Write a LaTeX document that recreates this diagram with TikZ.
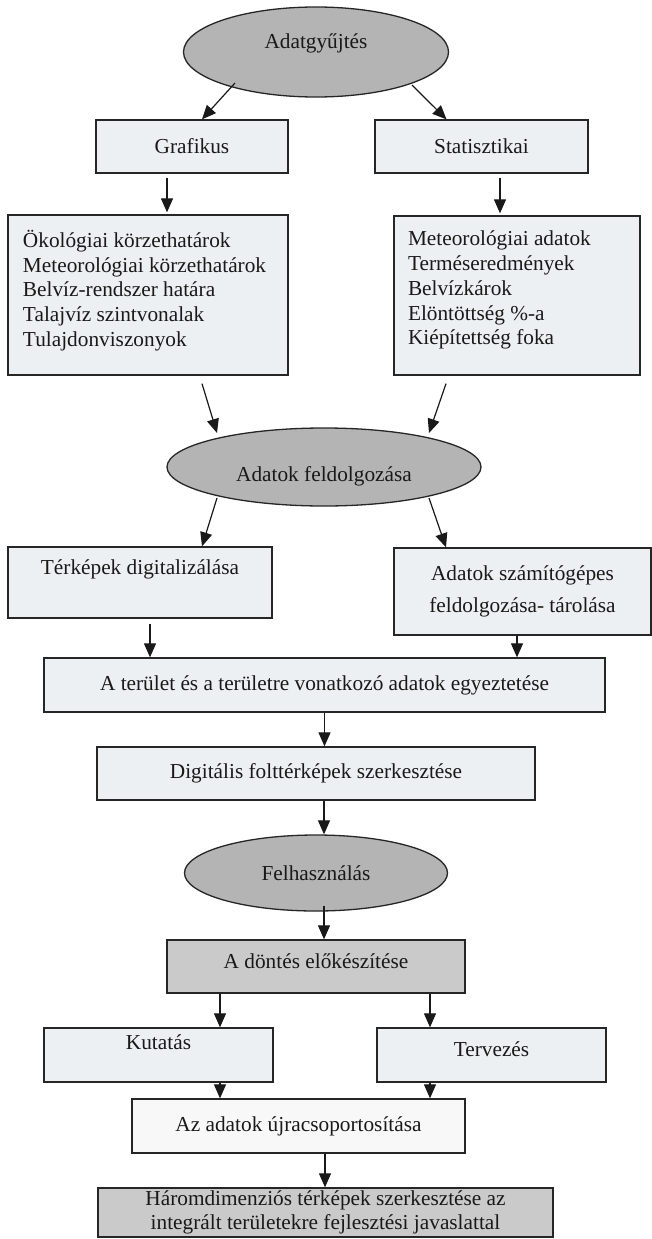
\documentclass[tikz,border=0pt]{standalone}
\usepackage{fontspec}
\setmainfont{Liberation Serif}
\usetikzlibrary{shapes.geometric,arrows.meta,calc}
\definecolor{ellgray}{HTML}{B4B4B4}
\definecolor{boxlight}{HTML}{EDF0F2}
\definecolor{boxdark}{HTML}{CACACA}
\definecolor{boxwhite}{HTML}{F8F8F8}
\begin{document}
\begin{tikzpicture}[x=1pt,y=1pt]
	\tikzstyle{every node}+=[font=\fontsize{21.3}{24.75}\selectfont, text=black!90]
	\tikzstyle{ell}=[ellipse, draw=black!85, line width=1.3pt, fill=ellgray, inner sep=0pt]
	\tikzstyle{box}=[rectangle, draw=black!85, line width=1.3pt, fill=boxlight, inner sep=2pt]
	\tikzstyle{arr}=[black!90, line width=1.2pt, -{Triangle[length=14pt,width=12pt]}]
	\useasboundingbox (0,0) rectangle (652,-1239);
	\node [ell, minimum width=265, minimum height=90, text depth=21pt] (gyujt) at (316,-52) {Adatgyűjtés};
	\node [box, minimum width=192, minimum height=53] (graf) at (192,-146.5) {Grafikus};
	\node [box, minimum width=213, minimum height=53] (stat) at (481.5,-146.5) {Statisztikai};
	\node [box, inner sep=15pt] (graflist) at (148,-295) {\parbox[c][130pt][t]{250pt}{Ökológiai körzethatárok\\ Meteorológiai körzethatárok\\ Belvíz-rendszer határa\\ Talajvíz szintvonalak\\ Tulajdonviszonyok}};
	\node [box, inner xsep=14pt, inner ysep=15pt] (statlist) at (517,-295.5) {\parbox[c][129pt][t]{218pt}{Meteorológiai adatok\\ Terméseredmények\\ Belvízkárok\\ Elöntöttség \%-a\\ Kiépítettség foka}};
	\node [ell, minimum width=314, minimum height=78, text height=33pt, text depth=4pt] (feldolg) at (324,-467) {Adatok feldolgozása};
	\node [box, minimum width=264, minimum height=71, text depth=31pt] (terk) at (140,-582.5) {Térképek digitalizálása};
	\node [box, minimum width=257, minimum height=87, align=center] (szam) at (522.5,-591.5) {Adatok számítógépes\\[8pt] feldolgozása- tárolása};
	\node [box, minimum width=561, minimum height=54] (terulet) at (324.5,-685) {A terület és a területre vonatkozó adatok egyeztetése};
	\node [box, minimum width=438, minimum height=53] (folt) at (316,-773.5) {Digitális folttérképek szerkesztése};
	\node [ell, minimum width=263, minimum height=76] (felhasz) at (316,-873) {Felhasználás};
	\node [box, fill=boxdark, minimum width=298, minimum height=53, text depth=11pt] (dontes) at (316,-966.5) {A döntés előkészítése};
	\node [box, minimum width=229, minimum height=54, text depth=25pt] (kutat) at (158.5,-1055) {Kutatás};
	\node [box, minimum width=229, minimum height=54, text depth=12pt] (tervez) at (491.5,-1055) {Tervezés};
	\node [box, fill=boxwhite, minimum width=333, minimum height=54] (ujra) at (298.5,-1126) {Az adatok újracsoportosítása};
	\node [box, fill=boxdark, minimum width=455, minimum height=49, align=center, inner ysep=0pt] (harom) at (325.5,-1212.5) {Háromdimenziós térképek szerkesztése az\\ integrált területekre fejlesztési javaslattal};
	\draw [arr] ($(gyujt.center)+(-81,-31)$) -- ($(graf.north)+(10,0)$);
	\draw [arr] ($(gyujt.center)+(96,-33)$) -- ($(stat.north)+(-35,0)$);
	\draw [arr] ($(graf.south)+(-25,-4)$) -- ($(graflist.north)+(19,2)$);
	\draw [arr] ($(stat.south)+(18.5,-4)$) -- ($(statlist.north)+(-17,2)$);
	\draw [arr] ($(graflist.south)+(54,-8)$) -- ($(feldolg.center)+(-107,34)$);
	\draw [arr] ($(statlist.south)+(-71,-8)$) -- ($(feldolg.center)+(105,34)$);
	\draw [arr] ($(feldolg.center)+(-107,-31)$) -- ($(terk.north)+(62,0)$);
	\draw [arr] ($(feldolg.center)+(105,-31)$) -- ($(szam.north)+(-76.5,0)$);
	\draw [arr] ($(terk.south)+(10,-5)$) -- ($(terulet.north)+(-174.5,0)$);
	\draw [arr] ($(szam.south)+(-5.5,0)$) -- ($(terulet.north)+(192.5,0)$);
	\draw [arr] (terulet.south) -- (terulet.south |- folt.north);
	\draw [arr] ($(folt.south)+(8,0)$) -- ($(felhasz.north)+(8,0)$);
	\draw [arr] ($(felhasz.south)+(8,6)$) -- ($(dontes.north)+(8,0)$);
	\draw [arr] ($(dontes.south)+(-96,0)$) -- ($(kutat.north)+(61.5,0)$);
	\draw [arr] ($(dontes.south)+(114,0)$) -- ($(tervez.north)+(-61.5,0)$);
	\draw [arr] ($(kutat.south)+(61.5,0)$) -- ($(ujra.north)+(-78.5,0)$);
	\draw [arr] ($(tervez.south)+(-61.5,0)$) -- ($(ujra.north)+(131.5,0)$);
	\draw [arr] ($(ujra.south)+(26.5,0)$) -- ($(harom.north)+(-0.5,0)$);
\end{tikzpicture}
\end{document}
